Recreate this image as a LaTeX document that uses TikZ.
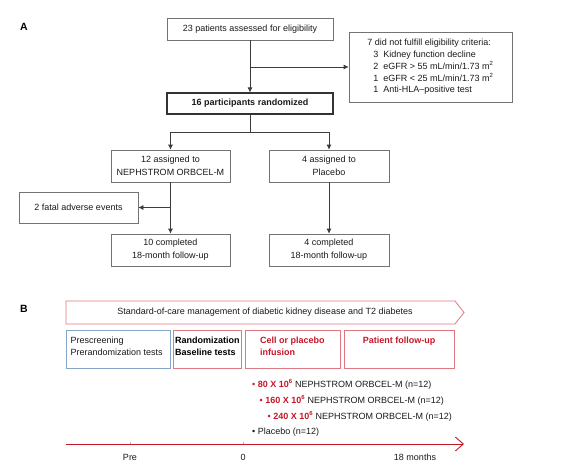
\documentclass[tikz,border=0pt]{standalone}
\usepackage{fontspec}
\setmainfont{Liberation Sans}
\usetikzlibrary{arrows.meta,calc}
\definecolor{boxgray}{RGB}{115,115,115}
\definecolor{linegray}{RGB}{60,60,60}
\definecolor{darkred}{RGB}{196,22,40}
\definecolor{pinkred}{RGB}{222,120,130}
\definecolor{steelb}{RGB}{135,165,200}
\tikzset{
  flowbox/.style={draw=boxgray, line width=0.7pt, align=center, inner sep=1pt,
    font=\fontsize{9}{13}\selectfont, text=black!90},
  conn/.style={draw=linegray, line width=0.7pt},
  arr/.style={conn, -{Latex[length=5pt,width=5pt]}},
  phasebox/.style={line width=0.8pt, inner sep=0pt},
  ptext/.style={font=\fontsize{9}{11.5}\selectfont, align=left, anchor=north west, inner sep=0pt},
  bul/.style={font=\fontsize{9}{11}\selectfont, anchor=west, inner sep=0pt, text=black!90},
  lbl/.style={font=\fontsize{10.5}{12}\selectfont\bfseries, inner sep=0pt},
}
\begin{document}
\begin{tikzpicture}[x=1pt,y=-1pt]
\useasboundingbox (0,0) rectangle (575,476);
% ---- Panel A ----
\node[lbl] (A) at (24,27) {A};
\node[flowbox, minimum width=166pt, minimum height=22pt] (n23) at (250,29) {23 patients assessed for eligibility};
\node[flowbox, minimum width=163pt, minimum height=70pt, align=left, font=\fontsize{9}{11.8}\selectfont] (crit) at (430.5,67)
  {7 did not fulfill eligibility criteria:\\
   \hspace*{6pt}3\hspace{5pt}Kidney function decline\\
   \hspace*{6pt}2\hspace{5pt}eGFR > 55 mL/min/1.73 m\textsuperscript{2}\\
   \hspace*{6pt}1\hspace{5pt}eGFR < 25 mL/min/1.73 m\textsuperscript{2}\\
   \hspace*{6pt}1\hspace{5pt}Anti-HLA--positive test};
\node[flowbox, line width=1.1pt, draw=black!80, minimum width=166pt, minimum height=21pt, font=\fontsize{9}{13}\selectfont\bfseries] (n16) at (250,103.5) {16 participants randomized};
\node[flowbox, minimum width=119pt, minimum height=32pt] (n12) at (170.5,166) {12 assigned to\\NEPHSTROM ORBCEL-M};
\node[flowbox, minimum width=120pt, minimum height=32pt] (n4) at (329,166) {4 assigned to\\Placebo};
\node[flowbox, minimum width=119pt, minimum height=31pt] (fatal) at (78.5,207.5) {2 fatal adverse events};
\node[flowbox, minimum width=119pt, minimum height=32pt] (c10) at (170.5,250) {10 completed\\18-month follow-up};
\node[flowbox, minimum width=120pt, minimum height=32pt] (c4) at (329,250) {4 completed\\18-month follow-up};
% connectors
\draw[arr] (n23.south) -- (n16.north);
\coordinate (exc) at (n23.south |- crit.west);
\draw[arr] (exc) -- (crit.west);
\coordinate (split) at ($(n16.south)+(0,18)$);
\draw[conn] (n16.south) -- (split);
\draw[arr] (split) -| (n12.north);
\draw[arr] (split) -| (n4.north);
\draw[arr] (n12.south) -- (c10.north);
\coordinate (dead) at (n12.south |- fatal.east);
\draw[arr] (dead) -- (fatal.east);
\draw[arr] (n4.south) -- (c4.north);
% ---- Panel B ----
\node[lbl] (B) at (24,309) {B};
\draw[pinkred, line width=0.8pt] (66,301) -- (455,301) -- (464,312.5) -- (455,324) -- (66,324) -- cycle;
\node[font=\fontsize{9}{11}\selectfont, text=black!90, inner sep=0pt] (soc) at (265,312.5) {Standard-of-care management of diabetic kidney disease and T2 diabetes};
\draw[phasebox, steelb] (66,330) rectangle (170,368);
\draw[phasebox, pinkred] (173,330) rectangle (241,368);
\draw[phasebox, pinkred] (245,330) rectangle (340,368);
\draw[phasebox, pinkred] (344,330) rectangle (454,368);
\node[ptext, text=black!90] (p1) at (70.5,337) {Prescreening\\Prerandomization tests};
\node[ptext, font=\fontsize{9}{11.5}\selectfont\bfseries, text=black] (p2) at (175,337) {Randomization\\Baseline tests};
\node[ptext, font=\fontsize{9}{11.5}\selectfont\bfseries, text=darkred] (p3) at (260,337) {Cell or placebo\\infusion};
\node[ptext, font=\fontsize{9}{11.5}\selectfont\bfseries, text=darkred, anchor=north] (p4) at (399,337) {Patient follow-up};
% dose list
\node[bul] (d1) at (252,384) {\textcolor{darkred}{\textbullet\ \textbf{80 X 10\textsuperscript{6}}} NEPHSTROM ORBCEL-M (n=12)};
\node[bul] (d2) at (259.5,400) {\textcolor{darkred}{\textbullet\ \textbf{160 X 10\textsuperscript{6}}} NEPHSTROM ORBCEL-M (n=12)};
\node[bul] (d3) at (267.5,416) {\textcolor{darkred}{\textbullet\ \textbf{240 X 10\textsuperscript{6}}} NEPHSTROM ORBCEL-M (n=12)};
\node[bul] (d4) at (252,432) {\textbullet\ Placebo (n=12)};
% timeline
\coordinate (t0) at (66,444);
\coordinate (t1) at (464,444);
\draw[darkred, line width=0.9pt, -{Straight Barb[length=8pt,width=14pt,line width=0.9pt]}] (t0) -- (t1);
\draw[pinkred!70, line width=0.6pt] (130,441.5) -- (130,444) (243,441.5) -- (243,444);
\node[font=\fontsize{9}{11}\selectfont, text=black!90, inner sep=0pt] (pre) at (130,457) {Pre};
\node[font=\fontsize{9}{11}\selectfont, text=black!90, inner sep=0pt] (zero) at (243,457) {0};
\node[font=\fontsize{9}{11}\selectfont, text=black!90, inner sep=0pt] (m18) at (415,457) {18 months};
\end{tikzpicture}
\end{document}
